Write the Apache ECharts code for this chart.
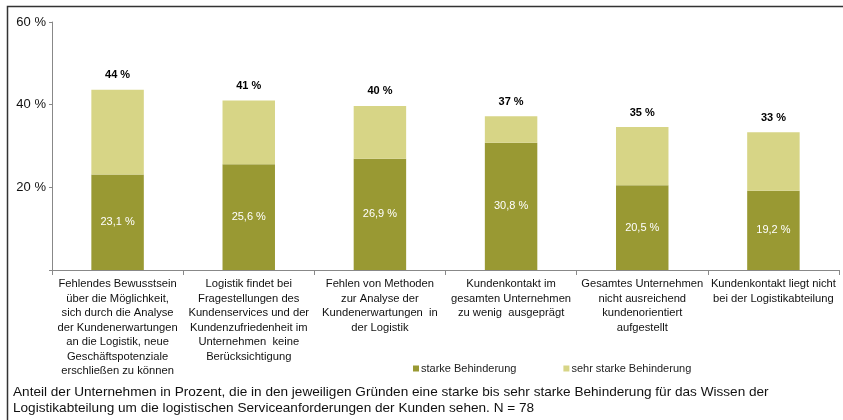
<!DOCTYPE html>
<html>
<head>
<meta charset="utf-8">
<script src="https://cdn.jsdelivr.net/npm/echarts@6/dist/echarts.min.js"></script>
<style>
  html, body { margin: 0; padding: 0; background: #fff; }
  #chart { width: 843px; height: 420px; }
</style>
</head>
<body>
<div id="chart"></div>
<script>
// Reasons hindering the logistics department's knowledge of customer service requirements
const categories = [
  'Fehlendes Bewusstsein\nüber die Möglichkeit,\nsich durch die Analyse\nder Kundenerwartungen\nan die Logistik, neue\nGeschäftspotenziale\nerschließen zu können',
  'Logistik findet bei\nFragestellungen des\nKundenservices und der\nKundenzufriedenheit im\nUnternehmen  keine\nBerücksichtigung',
  'Fehlen von Methoden\nzur Analyse der\nKundenerwartungen  in\nder Logistik',
  'Kundenkontakt im\ngesamten Unternehmen\nzu wenig  ausgeprägt',
  'Gesamtes Unternehmen\nnicht ausreichend\nkundenorientiert\naufgestellt',
  'Kundenkontakt liegt nicht\nbei der Logistikabteilung'
];
const starkeBehinderung = [23.1, 25.6, 26.9, 30.8, 20.5, 19.2];
const sehrStarkeBehinderung = [20.5, 15.4, 12.8, 6.4, 14.1, 14.1];
const yTicks = [0, 20, 40, 60];
const seriesNames = ['starke Behinderung', 'sehr starke Behinderung'];
const caption = 'Anteil der Unternehmen in Prozent, die in den jeweiligen Gründen eine starke bis sehr starke Behinderung für das Wissen der\nLogistikabteilung um die logistischen Serviceanforderungen der Kunden sehen. N = 78';

const totals = starkeBehinderung.map((v, i) => v + sehrStarkeBehinderung[i]);
const FONT = '"Liberation Sans", Arial, sans-serif';
const DARK = '#999933';
const LIGHT = '#D7D586';

const chart = echarts.init(document.getElementById('chart'), null, { renderer: 'canvas' });
chart.setOption({
  animation: false,
  textStyle: { fontFamily: FONT },
  grid: { left: 52, right: 4, top: 22, bottom: 150 },
  legend: {
    data: seriesNames,
    left: 408, top: 358,
    icon: 'rect', itemWidth: 6, itemHeight: 6,
    itemGap: 47,
    textStyle: { fontFamily: FONT, fontSize: 11, color: '#222', padding: [0, 0, 0, -3] }
  },
  xAxis: {
    type: 'category',
    data: categories,
    axisLine: { lineStyle: { color: '#888', width: 1 } },
    axisTick: { show: true, alignWithLabel: false, length: 5, lineStyle: { color: '#888' } },
    axisLabel: {
      interval: 0, margin: 7,
      fontFamily: FONT, fontSize: 11.2, color: '#111', lineHeight: 14.5, align: 'center'
    }
  },
  yAxis: {
    type: 'value',
    min: yTicks[0], max: yTicks[yTicks.length - 1], interval: 20,
    splitLine: { show: false },
    axisLine: { show: true, lineStyle: { color: '#888', width: 1 } },
    axisTick: { show: true, length: 3, lineStyle: { color: '#888' } },
    axisLabel: {
      fontFamily: FONT, fontSize: 13, color: '#111', margin: 6,
      formatter: v => (v === 0 ? '' : v + ' %')
    }
  },
  series: [
    {
      name: seriesNames[0],
      type: 'bar', stack: 'total', barWidth: '40%',
      itemStyle: { color: DARK },
      label: {
        show: true, position: 'inside', color: '#fff',
        fontFamily: FONT, fontSize: 11,
        formatter: p => p.value.toFixed(1).replace('.', ',') + ' %'
      },
      data: starkeBehinderung
    },
    {
      name: seriesNames[1],
      type: 'bar', stack: 'total', barWidth: '40%',
      itemStyle: { color: LIGHT },
      label: {
        show: true, position: 'top', distance: 9, color: '#000',
        fontFamily: FONT, fontSize: 11, fontWeight: 'bold',
        formatter: p => Math.round(totals[p.dataIndex]) + ' %'
      },
      data: sehrStarkeBehinderung
    }
  ],
  graphic: [
    {
      type: 'rect', silent: true,
      shape: { x: 7.5, y: 6.5, width: 850, height: 430 },
      style: { fill: 'none', stroke: '#333', lineWidth: 1.5 }
    },
    {
      type: 'text', left: 13, top: 384,
      style: { text: caption, fontFamily: FONT, fontSize: 13.6, lineHeight: 16, fill: '#111' }
    }
  ]
});
</script>
</body>
</html>
